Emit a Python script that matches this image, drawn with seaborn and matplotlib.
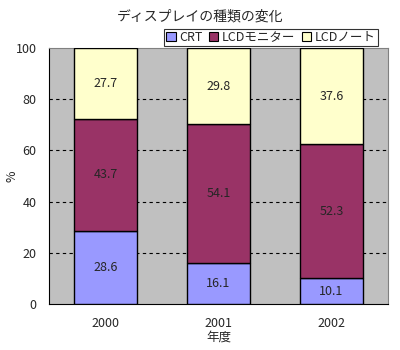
import matplotlib
matplotlib.use("Agg")
import matplotlib.pyplot as plt
import seaborn as sns
import numpy as np
import pandas as pd
from matplotlib.patches import Patch

years = ["2000", "2001", "2002"]
crt = [28.6, 16.1, 10.1]
lcd_mon = [43.7, 54.1, 52.3]
lcd_note = [27.7, 29.8, 37.6]
series_names = ["CRT", "LCDモニター", "LCDノート"]
colors = ["#9999FF", "#993366", "#FFFFCC"]

sns.set_style("white")
plt.rcParams['font.family'] = ['Noto Sans CJK JP', 'DejaVu Sans']

fig = plt.figure(figsize=(4, 3.5), dpi=100)
ax = fig.add_axes([0.1225, 0.1314, 0.8475, 0.7315])
ax.set_facecolor("#C0C0C0")

bottoms = [np.zeros(3), np.array(crt), np.array(crt) + np.array(lcd_mon)]
vals = [crt, lcd_mon, lcd_note]
for v, b, c in zip(vals, bottoms, colors):
    sns.barplot(x=years, y=v, bottom=b, color=c, width=0.55, edgecolor="black",
                linewidth=1.0, saturation=1, ax=ax, zorder=3)

for i in range(3):
    for v, b in zip(vals, bottoms):
        ax.text(i, b[i] + v[i] / 2, f"{v[i]:.1f}", ha="center", va="center",
                fontsize=9, zorder=4)

ax.set_xlim(-0.5, 2.5)
ax.set_ylim(0, 100)
ax.set_yticks([0, 20, 40, 60, 80, 100])
for y in [20, 40, 60, 80]:
    ax.axhline(y, color="black", linestyle=(0, (3, 3)), linewidth=0.8, zorder=1)
ax.tick_params(axis="both", length=0, labelsize=9)
ax.tick_params(axis="x", pad=9)
ax.tick_params(axis="y", pad=9)
for s in ax.spines.values():
    s.set_color("black")
    s.set_linewidth(0.8)
ax.spines["right"].set_color("#808080")
ax.spines["top"].set_color("#808080")

ax.set_xlabel("年度", fontsize=9)
ax.xaxis.set_label_coords(0.5, -0.105)
ax.set_ylabel("%", fontsize=9)
ax.yaxis.set_label_coords(-0.09, 0.5)
fig.suptitle("ディスプレイの種類の変化", fontsize=10, y=0.972)

handles = [Patch(facecolor=c, edgecolor="black", linewidth=0.8) for c in colors]
leg = ax.legend(handles, series_names, ncol=3, loc="lower right",
                bbox_to_anchor=(0.975, 1.0), frameon=True, fancybox=False,
                fontsize=9, handlelength=0.75, handleheight=0.75,
                handletextpad=0.3, columnspacing=0.5, borderpad=0.15,
                borderaxespad=0.15)
leg.get_frame().set_edgecolor("black")
leg.get_frame().set_linewidth(0.8)

fig.savefig("out.png", dpi=100)
